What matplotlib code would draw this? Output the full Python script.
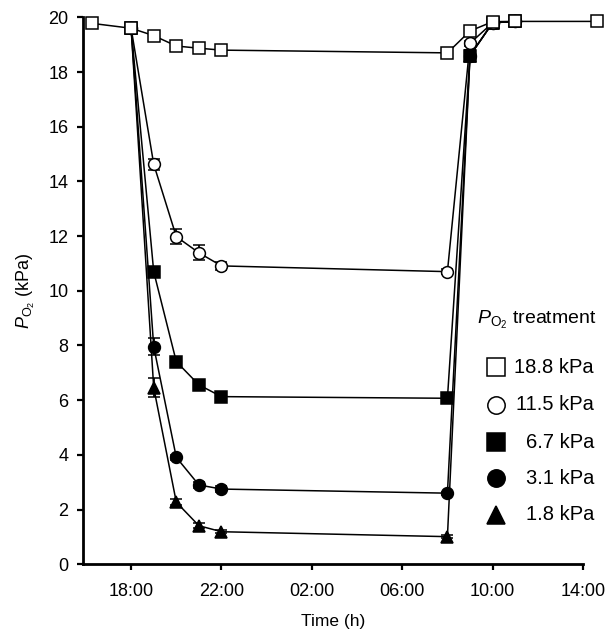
import numpy as np
import matplotlib.pyplot as plt
from matplotlib.lines import Line2D

plt.rcParams['font.family'] = ['Liberation Sans', 'DejaVu Sans']
plt.rcParams['mathtext.fontset'] = 'custom'
plt.rcParams['mathtext.rm'] = 'Liberation Sans'
plt.rcParams['mathtext.it'] = 'Liberation Sans:italic'

# time in hours from midnight of day 1 (18:00 = 18, 08:00 next day = 32)
t_main = [18, 19, 20, 21, 22, 32, 33, 34, 35]

t_188 = [16.25, 18, 19, 20, 21, 22, 32, 33, 34, 35, 38.6]
y_188 = [19.78, 19.6, 19.33, 18.95, 18.87, 18.8, 18.7, 19.5, 19.84, 19.85, 19.85]
e_188 = [0.05, 0.1, 0.1, 0.1, 0.1, 0.1, 0.1, 0.1, 0.05, 0.05, 0.05]

y_115 = [19.6, 14.63, 11.98, 11.39, 10.91, 10.7, 19.05, 19.8, 19.85]
e_115 = [0.1, 0.2, 0.27, 0.28, 0.15, 0.1, 0.1, 0.05, 0.05]

y_67 = [19.6, 10.7, 7.41, 6.56, 6.13, 6.07, 18.6, 19.8, 19.85]
e_67 = [0.1, 0.15, 0.15, 0.15, 0.15, 0.1, 0.2, 0.05, 0.05]

y_31 = [19.6, 7.96, 3.91, 2.9, 2.75, 2.6, 18.6, 19.8, 19.85]
e_31 = [0.1, 0.3, 0.1, 0.1, 0.12, 0.05, 0.2, 0.05, 0.05]

y_18 = [19.6, 6.46, 2.27, 1.41, 1.19, 1.01, 18.6, 19.8, 19.85]
e_18 = [0.1, 0.35, 0.1, 0.1, 0.05, 0.05, 0.2, 0.05, 0.05]

labels = ['18.8 kPa', '11.5 kPa', '6.7 kPa', '3.1 kPa', '1.8 kPa']
markers = ['s', 'o', 's', 'o', '^']
faces = ['white', 'white', 'black', 'black', 'black']

xticks = [18, 22, 26, 30, 34, 38]
xticklabels = ['18:00', '22:00', '02:00', '06:00', '10:00', '14:00']

fig = plt.figure(figsize=(6.12, 6.41), dpi=100)
ax = fig.add_axes([0.1356, 0.1197, 0.817, 0.8533])

series = [(t_188, y_188, e_188), (t_main, y_115, e_115), (t_main, y_67, e_67),
          (t_main, y_31, e_31), (t_main, y_18, e_18)]
# draw low series first so the 18.8 kPa squares sit on top
for i in [4, 3, 2, 1, 0]:
    t, y, e = series[i]
    ax.errorbar(t, y, yerr=e, color='black', lw=1.1, marker=markers[i],
                ms=8.5 if markers[i] != '^' else 8, mfc=faces[i], mec='black', mew=1.1,
                ecolor='black', elinewidth=1.3, capsize=4.5, capthick=1.3,
                clip_on=False, zorder=3 + (4 - i))

ax.set_xlim(15.87, 38)
ax.set_ylim(0, 20)
ax.set_yticks(np.arange(0, 21, 2))
ax.set_xticks(xticks)
ax.set_xticklabels(xticklabels)
for s in ['top', 'right']:
    ax.spines[s].set_visible(False)
for s in ['left', 'bottom']:
    ax.spines[s].set_linewidth(2)
ax.tick_params(direction='out', length=4.5, width=1.6, labelsize=13, pad=6)
ax.tick_params(axis='x', pad=9)
ax.set_xlabel('Time (h)', fontsize=12.5, labelpad=10)
ax.set_ylabel(r'$P_{\mathrm{O_2}}$ (kPa)', fontsize=13, labelpad=8)

# legend drawn by hand to keep the right-aligned labels
fig.text(477 / 612, 1 - 320 / 641, r'$P_{\mathrm{O_2}}$ treatment', fontsize=14,
         ha='left', va='center')
leg_y = [367, 405, 442, 478, 515]
for i, lab in enumerate(labels):
    yy = 1 - leg_y[i] / 641
    fig.add_artist(Line2D([496 / 612], [yy], marker=markers[i], ms=12.5,
                          mfc=faces[i], mec='black', mew=1.1, ls='none',
                          transform=fig.transFigure))
    fig.text(594 / 612, yy, lab, fontsize=14.5, ha='right', va='center')

fig.savefig('out.png', dpi=100)
